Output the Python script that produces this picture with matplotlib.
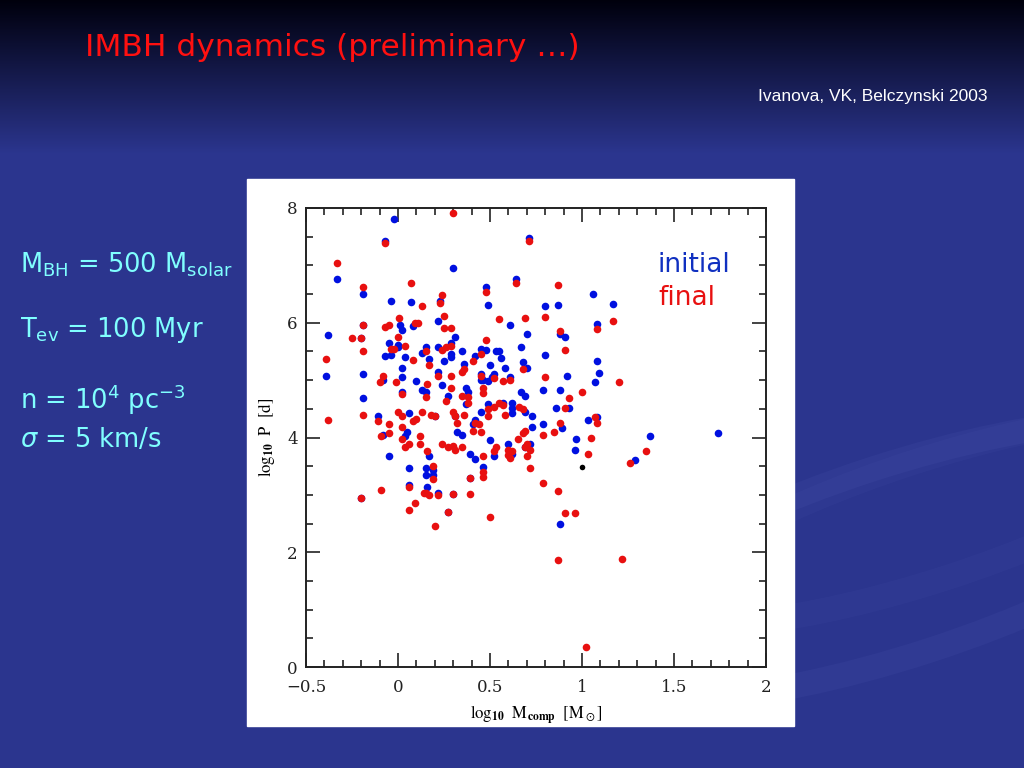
import numpy as np
import matplotlib
matplotlib.use("Agg")
import matplotlib.pyplot as plt
from matplotlib.patches import Rectangle, Ellipse
from matplotlib.ticker import MultipleLocator, FuncFormatter

# initial (blue) companions: log10 M_comp, log10 P
init_logm = [-0.02, -0.07, -0.33, -0.19, -0.04, 0.07, -0.19, 0.01, 0.02, 0.08, -0.38, -0.20,
             -0.05, 0.00, 0.00, -0.07, -0.04, 0.04, 0.13, 0.02, -0.39, -0.19, 0.02, 0.10,
             0.71, 0.30, 0.64, 0.48, 0.49, 0.23, 0.61, 0.70, 0.22, 0.31, 0.29, 0.22,
             0.15, 0.29, 0.29, 0.35, 0.45, 0.48, 0.42, 0.53, 0.55, 0.56, 0.67, 0.68,
             0.70, 0.17, 0.25, 0.50, 0.58, 0.36, 0.22, 0.45, 0.46, 0.51, 0.52, 0.61, 0.49,
             1.06, 0.80, 0.87, 1.17, 1.08, 0.88, 0.91, 0.80, 1.08, 0.92, 1.09, 1.07,
             -0.08, -0.19, 0.02, 0.06, -0.11, 0.13, -0.08, 0.05, 0.04, -0.05, 0.06, 0.06, -0.20,
             0.24, 0.37, 0.38, 0.45, 0.67, 0.69, 0.15, 0.27, 0.37, 0.20, 0.31, 0.45,
             0.49, 0.57, 0.62, 0.62, 0.62, 0.69, 0.73, 0.42, 0.41, 0.32, 0.35, 0.50,
             0.52, 0.60, 0.62, 0.69, 0.72, 0.73, 0.39, 0.42, 0.46, 0.39, 0.17, 0.15,
             0.15, 0.19, 0.19, 0.16, 0.22, 0.30, 0.27,
             0.79, 0.88, 0.86, 0.93, 1.08, 1.03, 0.79, 0.89, 0.97, 1.37, 0.96, 1.29, 0.88, 1.74]
init_logp = [7.81, 7.42, 6.76, 6.50, 6.38, 6.36, 5.96, 5.96, 5.87, 5.94, 5.78, 5.73,
             5.64, 5.61, 5.57, 5.42, 5.43, 5.40, 5.48, 5.22, 5.07, 5.10, 5.05, 4.98,
             7.48, 6.95, 6.76, 6.62, 6.31, 6.38, 5.96, 5.80, 6.03, 5.75, 5.64, 5.57,
             5.57, 5.45, 5.40, 5.50, 5.55, 5.52, 5.42, 5.50, 5.50, 5.38, 5.57, 5.31,
             5.22, 5.36, 5.34, 5.27, 5.22, 5.28, 5.14, 5.10, 5.01, 5.05, 5.10, 5.05, 4.98,
             6.50, 6.29, 6.31, 6.32, 5.97, 5.80, 5.76, 5.44, 5.33, 5.08, 5.12, 4.96,
             5.00, 4.68, 4.80, 4.42, 4.37, 4.82, 4.05, 4.09, 4.02, 3.67, 3.46, 3.18, 2.95,
             4.91, 4.86, 4.79, 5.00, 4.79, 4.73, 4.79, 4.73, 4.58, 4.37, 4.37, 4.44,
             4.58, 4.61, 4.61, 4.52, 4.42, 4.45, 4.37, 4.30, 4.23, 4.09, 4.04, 3.95,
             3.67, 3.88, 3.72, 3.84, 3.88, 4.19, 3.72, 3.62, 3.49, 3.30, 3.67, 3.46,
             3.35, 3.44, 3.35, 3.14, 3.04, 3.02, 2.71,
             4.82, 4.82, 4.51, 4.51, 4.35, 4.30, 4.23, 4.17, 3.97, 4.02, 3.79, 3.60, 2.50, 4.07]

# final (red) companions
final_logm = [0.30, -0.07, -0.33, -0.19, 0.07, 0.13, 0.005, -0.19, -0.07, -0.05, 0.09, 0.11,
              -0.25, -0.20, -0.19, 0.00, -0.04, -0.02, 0.04, 0.08, -0.39, -0.08, -0.01, -0.10,
              0.71, 0.64, 0.48, 0.24, 0.23, 0.25, 0.55, 0.69, 0.25, 0.29, 0.48, 0.26,
              0.29, 0.24, 0.15, 0.45, 0.41, 0.68, 0.17, 0.36, 0.35, 0.22, 0.29, 0.45,
              0.52, 0.57, 0.61, 0.16,
              0.87, 0.80, 1.17, 1.08, 0.88, 0.91, 0.80, 1.20,
              -0.38, -0.19, 0.00, 0.02, 0.02, -0.11, -0.05, 0.08, 0.10, 0.13, -0.05, -0.09,
              0.02, 0.02, 0.04, 0.06, 0.12, 0.12, 0.06, -0.09, -0.20, 0.09, 0.06, 0.14,
              0.29, 0.46, 0.46, 0.15, 0.26, 0.35, 0.38, 0.38, 0.18, 0.20, 0.30, 0.31,
              0.32, 0.36, 0.49, 0.49, 0.52, 0.55, 0.57, 0.58, 0.66, 0.68, 0.42, 0.44,
              0.41, 0.45, 0.53, 0.52, 0.60, 0.62, 0.60, 0.61, 0.65, 0.68, 0.69, 0.69,
              0.70, 0.72, 0.70, 0.72, 0.24, 0.27, 0.30, 0.31, 0.35, 0.46, 0.46, 0.46,
              0.39, 0.39, 0.16, 0.19, 0.19, 0.15, 0.17, 0.22, 0.30, 0.27, 0.50, 0.20,
              0.93, 1.00, 0.91, 1.07, 1.08, 0.88, 0.85, 0.79, 1.05, 1.03, 1.35, 1.26,
              0.79, 0.87, 0.91, 0.96, 0.87, 1.22, 1.02]
final_logp = [7.91, 7.39, 7.04, 6.62, 6.69, 6.29, 6.08, 5.96, 5.92, 5.96, 6.00, 5.99,
              5.73, 5.73, 5.50, 5.75, 5.55, 5.55, 5.59, 5.35, 5.36, 5.07, 4.96, 4.96,
              7.42, 6.69, 6.53, 6.48, 6.34, 6.11, 6.06, 6.08, 5.90, 5.90, 5.70, 5.57,
              5.59, 5.52, 5.50, 5.45, 5.33, 5.19, 5.26, 5.19, 5.14, 5.07, 5.07, 5.08,
              5.03, 4.98, 5.01, 4.94,
              6.66, 6.10, 6.03, 5.89, 5.85, 5.52, 5.05, 4.96,
              4.31, 4.40, 4.45, 4.38, 4.75, 4.28, 4.24, 4.28, 4.33, 4.45, 4.07, 4.02,
              4.19, 3.97, 3.84, 3.88, 4.03, 3.88, 3.13, 3.09, 2.95, 2.86, 2.74, 3.04,
              4.87, 4.86, 4.77, 4.70, 4.64, 4.72, 4.70, 4.61, 4.40, 4.38, 4.44, 4.37,
              4.26, 4.40, 4.49, 4.38, 4.54, 4.61, 4.56, 4.40, 4.54, 4.49, 4.26, 4.23,
              4.11, 4.09, 3.83, 3.76, 3.79, 3.76, 3.70, 3.65, 3.97, 4.07, 4.12, 3.83,
              3.88, 3.79, 3.67, 3.46, 3.88, 3.84, 3.86, 3.79, 3.83, 3.67, 3.39, 3.32,
              3.30, 3.02, 3.76, 3.51, 3.27, 3.04, 3.00, 2.99, 3.02, 2.71, 2.62, 2.45,
              4.68, 4.79, 4.51, 4.35, 4.26, 4.26, 4.09, 4.05, 4.00, 3.72, 3.77, 3.56,
              3.20, 3.07, 2.69, 2.69, 1.87, 1.88, 0.35]

# the lone black point
black_logm = [1.00]
black_logp = [3.49]

W, H = 1024, 768
fig = plt.figure(figsize=(W / 100, H / 100), dpi=100)

# slide background
bg = fig.add_axes([0, 0, 1, 1])
bg.set_xlim(0, W)
bg.set_ylim(H, 0)
bg.axis("off")
t = np.clip(np.linspace(0, 1, H) / 0.2, 0, 1)[:, None]
top = np.array([0.0, 0.0, 0.05])
mid = np.array([0.17, 0.21, 0.56])
grad = top + (mid - top) * t[..., None]
grad = np.repeat(grad, 2, axis=1)
bg.imshow(grad, extent=(0, W, H, 0), aspect="auto", zorder=0)
# faint swooshes on the right
for (cx, cy, w, h, a, al) in [(900, 560, 700, 190, -18, 0.07), (930, 520, 560, 120, -18, 0.05)]:
    bg.add_patch(Ellipse((cx, cy), w, h, angle=a, fill=False, lw=18,
                         ec=(0.45, 0.5, 0.85), alpha=al, zorder=1))
bg.add_patch(Rectangle((247, 179), 547, 547, color="white", zorder=2))

fig.text(85 / W, 1 - 48 / H, "IMBH dynamics (preliminary \u2026)", color="#FF1010",
         fontsize=22.5, va="center", ha="left", family="DejaVu Sans")
fig.text(987 / W, 1 - 97 / H, "Ivanova, VK, Belczynski 2003", color="white",
         fontsize=12.5, va="center", ha="right", family="Liberation Sans")

cyan = "#80FFFF"
left_lines = [(r"M$_\mathrm{BH}$ = 500 M$_\mathrm{solar}$", 265),
              (r"T$_\mathrm{ev}$ = 100 Myr", 330),
              (r"n = 10$^4$ pc$^{-3}$", 400),
              (r"$\sigma$ = 5 km/s", 440)]
for txt, py in left_lines:
    fig.text(20 / W, 1 - py / H, txt, color=cyan, fontsize=18.5, va="center", ha="left",
             family="DejaVu Sans", math_fontfamily="dejavusans")

# scatter panel
ax = fig.add_axes([306 / W, 1 - 667 / H, 460 / W, 459 / H])
ax.scatter(init_logm, init_logp, s=30, color="#0010E0", lw=0, zorder=3)
ax.scatter(final_logm, final_logp, s=30, color="#E81010", lw=0, zorder=4)
ax.scatter(black_logm, black_logp, s=16, color="black", lw=0, zorder=5)
ax.set_xlim(-0.5, 2)
ax.set_ylim(0, 8)
ax.xaxis.set_major_locator(MultipleLocator(0.5))
ax.xaxis.set_minor_locator(MultipleLocator(0.1))
ax.yaxis.set_major_locator(MultipleLocator(2))
ax.yaxis.set_minor_locator(MultipleLocator(0.5))
fmt = FuncFormatter(lambda v, pos: ("%g" % v).replace("-", "\u2212"))
ax.xaxis.set_major_formatter(fmt)
ax.yaxis.set_major_formatter(fmt)
ax.tick_params(which="both", direction="in", top=True, right=True, width=1.2,
               colors="#222222", labelsize=12, labelfontfamily="DejaVu Serif")
ax.tick_params(which="major", length=10)
ax.tick_params(which="minor", length=5)
ax.tick_params(axis="x", pad=9)
ax.tick_params(axis="y", pad=6)
for sp in ax.spines.values():
    sp.set_linewidth(1.4)
    sp.set_color("#222222")
ax.set_xlabel(r"$\mathrm{log}_{\mathbf{10}}\ \ \mathrm{M}_{\mathbf{comp}}\ \ [\mathrm{M}_\odot]$",
              fontsize=12, math_fontfamily="stix", labelpad=5)
ax.set_ylabel(r"$\mathrm{log}_{\mathbf{10}}\ \ \mathrm{P}\ \ [\mathrm{d}]$",
              fontsize=12, math_fontfamily="stix", labelpad=7)
ax.text(0.765, 0.876, "initial", transform=ax.transAxes, color="#1030C0", fontsize=19,
        ha="left", va="center", family="DejaVu Sans")
ax.text(0.765, 0.804, "final", transform=ax.transAxes, color="#E81010", fontsize=19,
        ha="left", va="center", family="DejaVu Sans")

fig.savefig("out.png", dpi=100)
